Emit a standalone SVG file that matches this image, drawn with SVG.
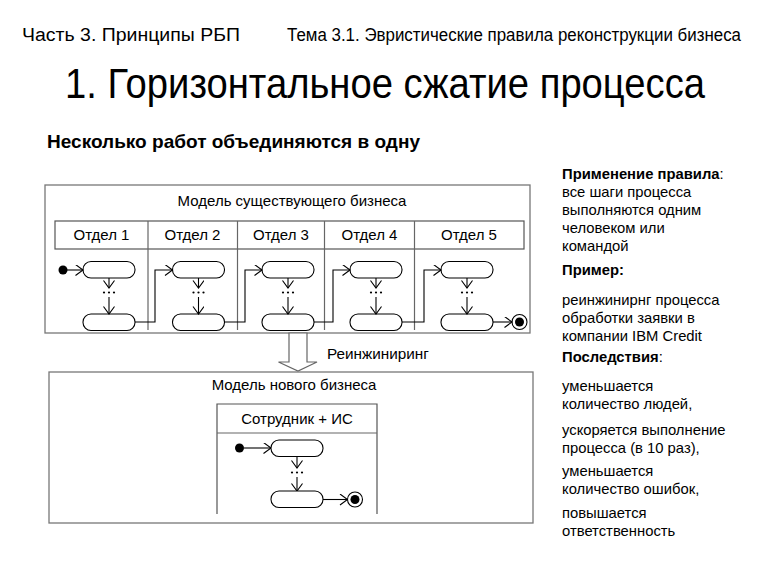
<svg xmlns="http://www.w3.org/2000/svg" width="768" height="576" viewBox="0 0 768 576">
<style>
text{font-family:"Liberation Sans",Arial,sans-serif;fill:#000}
.frame{fill:none;stroke:#777;stroke-width:1.3}
.hdr{fill:none;stroke:#555;stroke-width:1.2}
.div{stroke:#666;stroke-width:1.2}
.act{fill:#fff;stroke:#000;stroke-width:1.1}
.ln{fill:none;stroke:#000;stroke-width:1.1}
.arr{fill:none;stroke:#000;stroke-width:1.1;marker-end:url(#open)}
.lbl{font-size:15px;text-anchor:middle}
.side{font-size:14.8px}
.b{font-weight:bold}
</style>
<defs>
<marker id="open" markerUnits="userSpaceOnUse" markerWidth="11" markerHeight="12" refX="8.5" refY="5.5" orient="auto">
<path d="M1,0 L8.5,5.5 L1,11" fill="none" stroke="#000" stroke-width="1.1"/>
</marker>
</defs>

<g id="titles">
<text x="22" y="40.5" font-size="18" textLength="218" lengthAdjust="spacingAndGlyphs">Часть 3. Принципы РБП</text>
<text x="287" y="40.5" font-size="17.5" textLength="454" lengthAdjust="spacingAndGlyphs">Тема 3.1. Эвристические правила реконструкции бизнеса</text>
<text x="65" y="98" font-size="42" textLength="640" lengthAdjust="spacingAndGlyphs">1. Горизонтальное сжатие процесса</text>
<text x="47" y="147.5" font-size="19" font-weight="bold" textLength="373" lengthAdjust="spacingAndGlyphs">Несколько работ объединяются в одну</text>
</g>

<g id="model-current">
<rect class="frame" x="45" y="185" width="485" height="148"/>
<text class="lbl" x="292" y="206">Модель существующего бизнеса</text>
<rect class="hdr" x="55" y="221" width="469" height="28"/>
<g class="div">
<line x1="148" y1="221" x2="148" y2="330"/>
<line x1="237.5" y1="221" x2="237.5" y2="330"/>
<line x1="324.5" y1="221" x2="324.5" y2="330"/>
<line x1="414.5" y1="221" x2="414.5" y2="330"/>
</g>
<text class="lbl" x="101.5" y="240">Отдел 1</text>
<text class="lbl" x="192.5" y="240">Отдел 2</text>
<text class="lbl" x="281" y="240">Отдел 3</text>
<text class="lbl" x="369.5" y="240">Отдел 4</text>
<text class="lbl" x="469" y="240">Отдел 5</text>
</g>

<g id="dept1-nodes">
<circle cx="63" cy="270" r="4.5" fill="#000"/>
<rect class="act" x="83" y="261.5" width="52" height="16.5" rx="8"/>
<rect class="act" x="83" y="314" width="52" height="16.5" rx="8"/>
</g>
<g id="dept2-nodes">
<rect class="act" x="172.5" y="261.5" width="52" height="16.5" rx="8"/>
<rect class="act" x="172.5" y="314" width="52" height="16.5" rx="8"/>
</g>
<g id="dept3-nodes">
<rect class="act" x="262" y="261.5" width="52" height="16.5" rx="8"/>
<rect class="act" x="262" y="314" width="52" height="16.5" rx="8"/>
</g>
<g id="dept4-nodes">
<rect class="act" x="350" y="261.5" width="52" height="16.5" rx="8"/>
<rect class="act" x="350" y="314" width="52" height="16.5" rx="8"/>
</g>
<g id="dept5-nodes">
<rect class="act" x="441" y="261.5" width="52" height="16.5" rx="8"/>
<rect class="act" x="441" y="314" width="52" height="16.5" rx="8"/>
<circle cx="519.5" cy="322" r="7.5" fill="#fff" stroke="#000" stroke-width="1.1"/>
<circle cx="519.5" cy="322" r="4.5" fill="#000"/>
</g>

<g id="connectors">
<line class="arr" x1="67" y1="270" x2="83" y2="270"/>
<line class="arr" x1="109" y1="278" x2="109" y2="288"/>
<line class="arr" x1="109" y1="297" x2="109" y2="314"/>
<line class="arr" x1="198.5" y1="278" x2="198.5" y2="288"/>
<line class="arr" x1="198.5" y1="297" x2="198.5" y2="314"/>
<line class="arr" x1="288" y1="278" x2="288" y2="288"/>
<line class="arr" x1="288" y1="297" x2="288" y2="314"/>
<line class="arr" x1="376" y1="278" x2="376" y2="288"/>
<line class="arr" x1="376" y1="297" x2="376" y2="314"/>
<line class="arr" x1="467" y1="278" x2="467" y2="288"/>
<line class="arr" x1="467" y1="297" x2="467" y2="314"/>
<polyline class="arr" points="135,322 155,322 155,270 172.5,270"/>
<polyline class="arr" points="224.5,322 245,322 245,270 262,270"/>
<polyline class="arr" points="314,322 333,322 333,270 350,270"/>
<polyline class="arr" points="402,322 424,322 424,270 441,270"/>
<line class="arr" x1="493" y1="322" x2="512" y2="322"/>
<line class="arr" x1="323" y1="499.5" x2="347.5" y2="499.5"/>
<line class="arr" x1="244" y1="448" x2="271" y2="448"/>
<line class="arr" x1="297" y1="456.5" x2="297" y2="468"/>
<line class="arr" x1="297" y1="477" x2="297" y2="491"/>
<polygon points="289,333 307,333 307,362 317,362 298,371 278.5,362 289,362" fill="#fff" stroke="#666" stroke-width="1.2"/>
</g>
<g id="dots" fill="#000">
<circle cx="104" cy="292.5" r="1.1"/><circle cx="109" cy="292.5" r="1.1"/><circle cx="114" cy="292.5" r="1.1"/>
<circle cx="193.5" cy="292.5" r="1.1"/><circle cx="198.5" cy="292.5" r="1.1"/><circle cx="203.5" cy="292.5" r="1.1"/>
<circle cx="283" cy="292.5" r="1.1"/><circle cx="288" cy="292.5" r="1.1"/><circle cx="293" cy="292.5" r="1.1"/>
<circle cx="371" cy="292.5" r="1.1"/><circle cx="376" cy="292.5" r="1.1"/><circle cx="381" cy="292.5" r="1.1"/>
<circle cx="462" cy="292.5" r="1.1"/><circle cx="467" cy="292.5" r="1.1"/><circle cx="472" cy="292.5" r="1.1"/>
<circle cx="292" cy="472.5" r="1.1"/><circle cx="297" cy="472.5" r="1.1"/><circle cx="302" cy="472.5" r="1.1"/>
</g>

<g id="reengineering-label">
<text x="327" y="359" font-size="15.3">Реинжиниринг</text>
</g>

<g id="model-new">
<rect class="frame" x="49" y="372" width="484" height="151"/>
<text class="lbl" x="294" y="390">Модель нового бизнеса</text>
<polyline class="hdr" points="217,514 217,404 377,404 377,514"/>
<line class="div" x1="217" y1="433" x2="377" y2="433"/>
<text class="lbl" x="297" y="424">Сотрудник + ИС</text>
</g>
<g id="new-nodes">
<circle cx="239.5" cy="448" r="4.5" fill="#000"/>
<rect class="act" x="271" y="440" width="52" height="16.5" rx="8"/>
<rect class="act" x="271" y="491" width="52" height="16.5" rx="8"/>
<circle cx="355" cy="499.5" r="7.5" fill="#fff" stroke="#000" stroke-width="1.1"/>
<circle cx="355" cy="499.5" r="4.5" fill="#000"/>
</g>

<g id="side-text">
<text class="side" x="562" y="179"><tspan class="b">Применение правила</tspan>:</text>
<text class="side" x="562" y="197">все шаги процесса</text>
<text class="side" x="562" y="215">выполняются одним</text>
<text class="side" x="562" y="233">человеком или</text>
<text class="side" x="562" y="251">командой</text>
<text class="side b" x="562" y="275">Пример:</text>
<text class="side" x="562" y="305">реинжинирнг процесса</text>
<text class="side" x="562" y="323">обработки заявки в</text>
<text class="side" x="562" y="341">компании IBM Credit</text>
<text class="side" x="562" y="362"><tspan class="b">Последствия</tspan>:</text>
<text class="side" x="562" y="391">уменьшается</text>
<text class="side" x="562" y="409">количество людей,</text>
<text class="side" x="562" y="435">ускоряется выполнение</text>
<text class="side" x="562" y="453">процесса (в 10 раз),</text>
<text class="side" x="562" y="476">уменьшается</text>
<text class="side" x="562" y="494">количество ошибок,</text>
<text class="side" x="562" y="518">повышается</text>
<text class="side" x="562" y="536">ответственность</text>
</g>
</svg>
